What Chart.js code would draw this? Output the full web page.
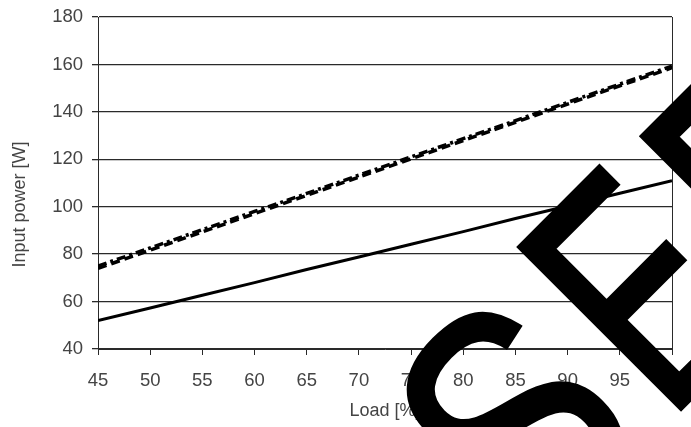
<!DOCTYPE html>
<html>
<head>
<meta charset="utf-8">
<script src="https://cdn.jsdelivr.net/npm/chart.js@4.4.1/dist/chart.umd.min.js"></script>
<style>
html,body{margin:0;padding:0;background:#fff;}
#wrap{width:691px;height:427px;position:relative;}
</style>
</head>
<body>
<div id="wrap"><canvas id="c"></canvas></div>
<script>
const loads = [45, 50, 55, 60, 65, 70, 75, 80, 85, 90, 95, 100];
const solidPower = [52, 57.3, 62.7, 68, 73.5, 78.8, 84.2, 89.5, 95, 100.3, 105.7, 111];
const dashedPower = [74, 81.7, 89.4, 97.1, 104.8, 112.5, 120.2, 127.9, 135.6, 143.3, 151, 158.6];
const dashDotPower = [75, 82.6, 90.3, 98, 105.6, 113.3, 121, 128.7, 136.3, 144, 151.7, 159.3];
const xTicks = [45, 50, 55, 60, 65, 70, 75, 80, 85, 90, 95, 100];
const yTicks = [40, 60, 80, 100, 120, 140, 160, 180];
const xTitle = 'Load [%]';
const yTitle = 'Input power [W]';
const watermarkLetters = ['S', 'E', 'F'];

const pts = arr => loads.map((x, i) => ({x: x, y: arr[i]}));
const fam = "'Liberation Sans', Arial, sans-serif";
const tickFont = {family: fam, size: 18.5};
const titleFont = {family: fam, size: 18};
const gridCol = '#2a2a2a';

// per-letter placement along the rotated baseline (style only)
const letterStyle = [
  {u: -8, font: "320px " + fam, sx: 0.82, lw: 5},
  {u: 183.5, font: "315px 'Inter', " + fam, sx: 0.82, lw: 4},
  {u: 350, font: "320px " + fam, sx: 0.82, lw: 5}
];

const overlayPlugin = {
  id: 'overlay',
  afterDraw(chart) {
    const ctx = chart.ctx;
    // y-axis title
    ctx.save();
    ctx.translate(25, 204.5);
    ctx.rotate(-Math.PI / 2);
    ctx.fillStyle = '#444';
    ctx.font = "18px " + fam;
    ctx.textAlign = 'center';
    ctx.textBaseline = 'alphabetic';
    ctx.fillText(yTitle, 0, 0);
    ctx.restore();
    // watermark
    watermarkLetters.forEach((ch, i) => {
      const st = letterStyle[i];
      ctx.save();
      ctx.translate(535, 555);
      ctx.rotate(-Math.PI / 4);
      ctx.translate(st.u, 0);
      ctx.scale(st.sx, 1);
      ctx.fillStyle = '#000';
      ctx.strokeStyle = '#000';
      ctx.lineWidth = st.lw;
      ctx.lineJoin = 'miter';
      ctx.font = st.font;
      ctx.textAlign = 'left';
      ctx.textBaseline = 'alphabetic';
      ctx.fillText(ch, 0, 0);
      ctx.strokeText(ch, 0, 0);
      ctx.restore();
    });
  }
};

new Chart(document.getElementById('c'), {
  type: 'line',
  data: {
    datasets: [
      {data: pts(solidPower), borderColor: '#000', borderWidth: 3, pointRadius: 0, fill: false, tension: 0},
      {data: pts(dashedPower), borderColor: '#000', borderWidth: 3.5, borderDash: [9, 5], pointRadius: 0, fill: false, tension: 0},
      {data: pts(dashDotPower), borderColor: '#000', borderWidth: 3.5, borderDash: [9, 4, 3, 4], pointRadius: 0, fill: false, tension: 0}
    ]
  },
  options: {
    responsive: true,
    maintainAspectRatio: false,
    animation: false,
    events: [],
    layout: {padding: {left: 0, right: 19, top: 17, bottom: 0}},
    plugins: {legend: {display: false}, tooltip: {enabled: false}},
    scales: {
      x: {
        type: 'linear', min: 45, max: 100,
        afterBuildTicks: s => { s.ticks = xTicks.map(v => ({value: v})); },
        afterFit: s => { s.height = 78; s.paddingLeft = 0; s.paddingRight = 0; },
        ticks: {color: '#444', font: tickFont, padding: 15, maxRotation: 0, autoSkip: false},
        grid: {display: true, drawOnChartArea: false, drawTicks: true, tickLength: 6, color: gridCol, lineWidth: 1},
        border: {display: true, color: gridCol, width: 1},
        title: {display: true, text: xTitle, color: '#444', font: titleFont, padding: {top: 0, bottom: 5}}
      },
      y: {
        type: 'linear', min: 40, max: 180,
        afterBuildTicks: s => { s.ticks = yTicks.map(v => ({value: v})); },
        afterFit: s => { s.width = 98; s.paddingTop = 0; s.paddingBottom = 0; },
        ticks: {color: '#444', font: tickFont, padding: 9},
        grid: {display: true, drawOnChartArea: true, drawTicks: true, tickLength: 6, color: gridCol, lineWidth: 1.3},
        border: {display: true, color: gridCol, width: 1},
        title: {display: false}
      },
      y2: {
        type: 'linear', position: 'right', min: 40, max: 180,
        afterFit: s => { s.width = 0; s.paddingTop = 0; s.paddingBottom = 0; },
        ticks: {display: false},
        grid: {display: false, drawTicks: false},
        border: {display: true, color: gridCol, width: 1}
      }
    }
  },
  plugins: [overlayPlugin]
});
</script>
</body>
</html>
